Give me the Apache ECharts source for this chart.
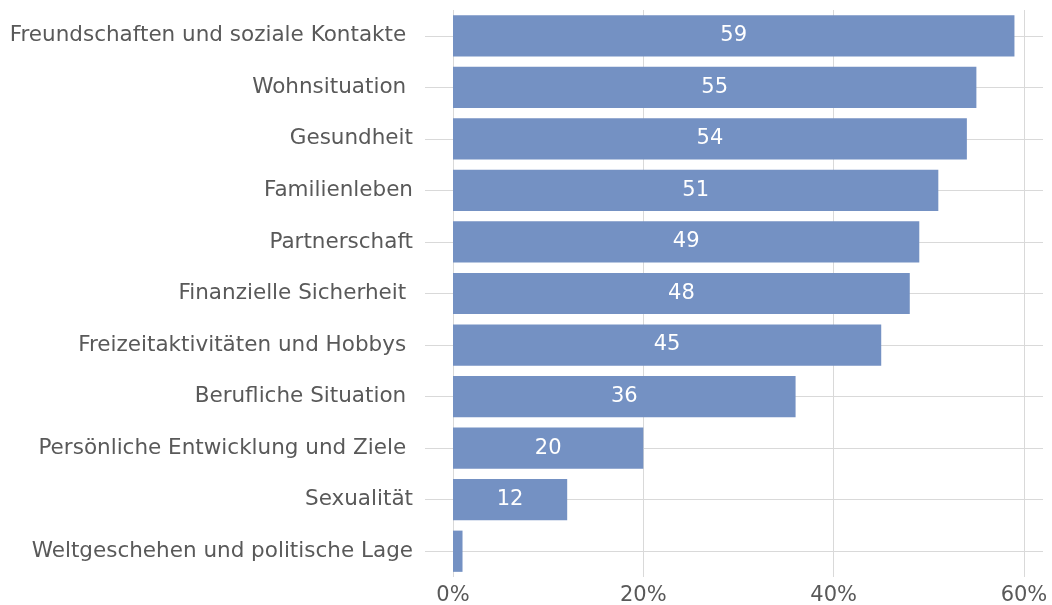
<!DOCTYPE html>
<html>
<head>
<meta charset="utf-8">
<script src="https://cdn.jsdelivr.net/npm/echarts@6/dist/echarts.min.js"></script>
<style>
    html, body { margin: 0; padding: 0; background: #fff; }
    #chart { width: 1052px; height: 605px; }
</style>
</head>
<body>
<div id="chart"></div>
<script>
    // Kategorien von oben nach unten (Leerzeichen am Ende wie im Original)
    var categories = [
        'Freundschaften und soziale Kontakte ',
        'Wohnsituation ',
        'Gesundheit',
        'Familienleben',
        'Partnerschaft',
        'Finanzielle Sicherheit ',
        'Freizeitaktivitäten und Hobbys ',
        'Berufliche Situation ',
        'Persönliche Entwicklung und Ziele ',
        'Sexualität',
        'Weltgeschehen und politische Lage'
    ]
    var values = [59, 55, 54, 51, 49, 48, 45, 36, 20, 12, 1]
    var tickValues = [0, 20, 40, 60]

    var textColor = '#595959'
    var lineColor = '#d9d9d9'
    var fontName = 'DejaVu Sans'

    var chart = echarts.init(document.getElementById('chart'))
    chart.setOption({
        animation: false,
        backgroundColor: '#fff',
        grid: {
            left: 453,
            right: 9,
            top: 10,
            bottom: 28,
            containLabel: false,
            outerBoundsMode: 'none'
        },
        xAxis: {
            type: 'value',
            min: 0,
            max: 62,
            interval: 20,
            axisLine: {show: false},
            axisTick: {show: false},
            axisLabel: {
                color: textColor,
                fontSize: 21,
                fontFamily: fontName,
                margin: 8,
                formatter: function (v) {
                    return tickValues.indexOf(v) >= 0 ? v + '%' : ''
                }
            },
            splitLine: {
                show: true,
                showMaxLine: false,
                lineStyle: {color: lineColor, width: 1}
            }
        },
        yAxis: {
            type: 'category',
            inverse: true,
            data: categories,
            axisLine: {show: false},
            axisTick: {
                show: true,
                alignWithLabel: true,
                length: 28,
                lineStyle: {color: lineColor}
            },
            axisLabel: {
                color: textColor,
                fontSize: 21.5,
                fontFamily: fontName,
                margin: 40
            },
            splitLine: {show: false}
        },
        series: [
            {
                // nur für die waagrechten Hilfslinien hinter den Balken
                type: 'line',
                data: [],
                z: 1,
                silent: true,
                markLine: {
                    z: 1,
                    silent: true,
                    symbol: 'none',
                    label: {show: false},
                    lineStyle: {color: lineColor, type: 'solid', width: 1},
                    data: categories.map(function (c) { return {yAxis: c} })
                }
            },
            {
                type: 'bar',
                data: values,
                z: 3,
                barCategoryGap: '20%',
                itemStyle: {color: '#7491c3'},
                label: {
                    show: true,
                    position: 'inside',
                    color: '#fff',
                    fontSize: 21,
                    fontFamily: fontName,
                    formatter: function (p) {
                        return p.value > 2 ? p.value : ''
                    }
                }
            }
        ]
    })
</script>
</body>
</html>
